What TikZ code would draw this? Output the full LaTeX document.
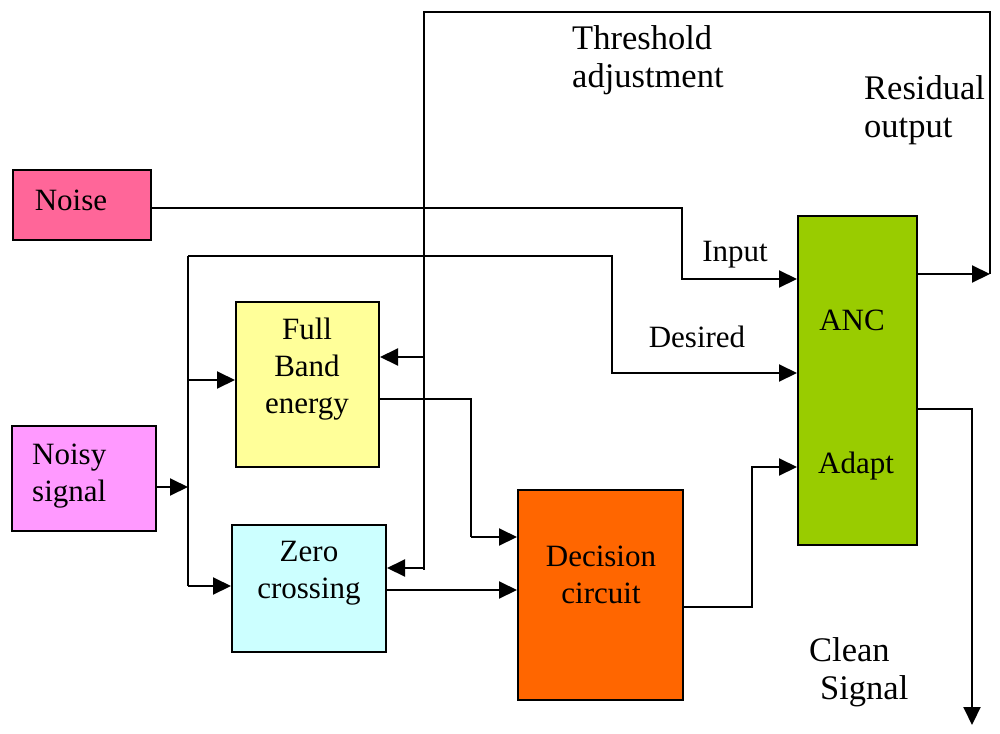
\documentclass[tikz,border=0pt]{standalone}
\usepackage{fontspec}
\setmainfont{Liberation Serif}
\usetikzlibrary{arrows.meta}
\definecolor{cnoise}{HTML}{FF6699}
\definecolor{cnoisy}{HTML}{FF99FF}
\definecolor{cfull}{HTML}{FFFF99}
\definecolor{czero}{HTML}{CCFFFF}
\definecolor{cdec}{HTML}{FF6600}
\definecolor{canc}{HTML}{99CC00}
\begin{document}
\begin{tikzpicture}[x=1pt,y=-1pt,
  font=\fontsize{31}{37}\selectfont,
  blk/.style={draw=black, line width=2pt, inner sep=0pt, rectangle},
  wire/.style={line width=2pt},
  arr/.style={wire,-{Triangle[length=18pt,width=17pt]}},
  lbl/.style={inner sep=0pt, align=center},
  big/.style={lbl, anchor=west, align=left, font=\fontsize{34.5}{38}\selectfont}]
\useasboundingbox (0,0) rectangle (1000,733);

% boxes
\node[blk, fill=cnoise, minimum width=138pt, minimum height=70pt] (noise) at (82,205) {};
\node[blk, fill=cnoisy, minimum width=144pt, minimum height=105pt] (noisy) at (84,478.5) {};
\node[blk, fill=cfull, minimum width=143pt, minimum height=165pt] (full) at (307.5,384.5) {};
\node[blk, fill=czero, minimum width=154pt, minimum height=127pt] (zero) at (309,588.5) {};
\node[blk, fill=cdec, minimum width=165pt, minimum height=210pt] (dec) at (600.5,595) {};
\node[blk, fill=canc, minimum width=119pt, minimum height=329pt] (anc) at (857.5,380.5) {};

% box texts
\node[lbl] (noiseT) at (71,200) {Noise};
\node[lbl, anchor=west, align=left] (noisyT) at (32,476) {Noisy\\signal};
\node[lbl] (fullT) at (307,369) {Full\\Band\\energy};
\node[lbl] (zeroT) at (309,573) {Zero\\crossing};
\node[lbl] (decT) at (601,575) {Decision\\circuit};
\node[lbl] (ancT) at (852,320) {ANC};
\node[lbl] (adaptT) at (856,466) {Adapt};

% free labels
\node[big] (thr) at (572,60) {Threshold\\adjustment};
\node[big] (res) at (864,110) {Residual\\output};
\node[lbl] (inp) at (735,255) {Input};
\node[lbl] (des) at (697,337) {Desired};
\node[big] (clean) at (809,672) {Clean\\\hspace*{11pt}Signal};

% junction coordinates
\coordinate (split) at (188,487);
\coordinate (vtop) at (188,256);
\coordinate (vbot) at (188,586);
\coordinate (vfull) at (188,380);
\coordinate (n1) at (682,208);
\coordinate (n2) at (682,279);
\coordinate (d1) at (612,256);
\coordinate (d2) at (612,373);
\coordinate (r1) at (990,274);
\coordinate (r2) at (990,12);
\coordinate (t1) at (424,12);
\coordinate (t2) at (424,570);
\coordinate (tfull) at (424,357);
\coordinate (tzero) at (424,568);
\coordinate (f1) at (471,399);
\coordinate (f2) at (471,537);
\coordinate (z1) at (450,590);
\coordinate (e1) at (752,607);
\coordinate (e2) at (752,467);
\coordinate (o1) at (972,409);
\coordinate (o2) at (972,725);

% connectors
\draw[arr] (noise.east |- n1) -- (n1) -- (n2) -- (anc.west |- n2);
\draw[arr] (noisy.east |- split) -- (split);
\draw[wire] (vtop) -- (vbot);
\draw[arr] (vtop) -- (d1) -- (d2) -- (anc.west |- d2);
\draw[arr] (vfull) -- (full.west |- vfull);
\draw[arr] (vbot) -- (zero.west |- vbot);
\draw[arr] (anc.east |- r1) -- (r1);
\draw[wire] (r1) -- (r2) -- (t1) -- (t2);
\draw[arr] (tfull) -- (full.east |- tfull);
\draw[arr] (tzero) -- (zero.east |- tzero);
\draw[wire] (full.east |- f1) -- (f1) -- (f2);
\draw[arr] (f2) -- (dec.west |- f2);
\draw[arr] (zero.east |- z1) -- (dec.west |- z1);
\draw[arr] (dec.east |- e1) -- (e1) -- (e2) -- (anc.west |- e2);
\draw[arr] (anc.east |- o1) -- (o1) -- (o2);
\end{tikzpicture}
\end{document}
